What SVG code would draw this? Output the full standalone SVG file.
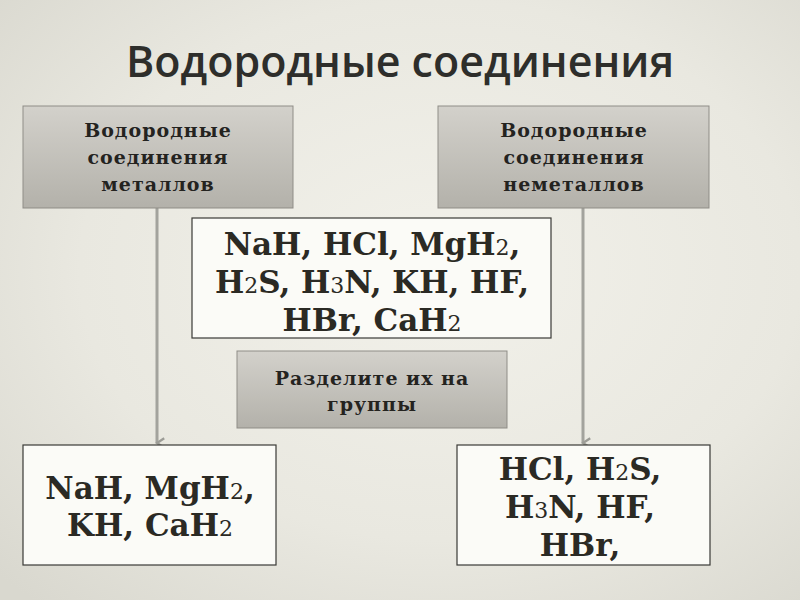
<svg xmlns="http://www.w3.org/2000/svg" width="800" height="600" viewBox="0 0 800 600">
<defs>
<radialGradient id="bg" cx="0.55" cy="0.45" r="0.75">
<stop offset="0" stop-color="#f2f1ea"/>
<stop offset="0.6" stop-color="#e9e8e0"/>
<stop offset="1" stop-color="#d9d8cf"/>
</radialGradient>
<linearGradient id="grey" x1="0" y1="0" x2="0" y2="1">
<stop offset="0" stop-color="#d3d1cb"/>
<stop offset="1" stop-color="#b3b1aa"/>
</linearGradient>
<marker id="arr" viewBox="0 0 10 10" refX="5" refY="8" markerWidth="4" markerHeight="4" orient="auto-start-reverse" markerUnits="strokeWidth">
<path d="M1,2 L5,8 L9,2" fill="none" stroke="#9c9c96" stroke-width="2"/>
</marker>
</defs>
<style>
.gbox{fill:url(#grey);stroke:#8f8d87;stroke-width:1}
.wbox{fill:#fbfbf7;stroke:#3a3a36;stroke-width:1.2}
.sm{font-family:"DejaVu Serif","Liberation Serif",serif;font-weight:bold;font-size:19px;fill:#24231f;text-anchor:middle;letter-spacing:1px}
.big{font-family:"DejaVu Serif","Liberation Serif",serif;font-weight:bold;font-size:31px;fill:#2b2a24;text-anchor:middle}
.sub{font-size:22px;font-weight:normal}
.title{font-family:"Open Sans","DejaVu Sans",sans-serif;font-weight:600;font-size:43px;fill:#2e2e2b;text-anchor:middle}
.conn{stroke:#a3a39d;stroke-width:3;fill:none}
</style>
<rect width="800" height="600" fill="url(#bg)"/>
<g id="title">
<text class="title" x="400" y="77">Водородные соединения</text>
</g>
<g id="connectors">
<line class="conn" x1="157" y1="208" x2="157" y2="443" marker-end="url(#arr)"/>
<line class="conn" x1="583" y1="208" x2="583" y2="443" marker-end="url(#arr)"/>
</g>
<g id="metals-head">
<rect class="gbox" x="23" y="106" width="270" height="102"/>
<text class="sm" x="158" y="137">Водородные</text>
<text class="sm" x="158" y="164">соединения</text>
<text class="sm" x="158" y="191">металлов</text>
</g>
<g id="nonmetals-head">
<rect class="gbox" x="438" y="106" width="271" height="102"/>
<text class="sm" x="574" y="137">Водородные</text>
<text class="sm" x="574" y="164">соединения</text>
<text class="sm" x="574" y="191">неметаллов</text>
</g>
<g id="all">
<rect class="wbox" x="192" y="218" width="359" height="120"/>
<text class="big" x="372" y="255">NaH, HCl, MgH<tspan class="sub">2</tspan>,</text>
<text class="big" x="372" y="293">H<tspan class="sub">2</tspan>S, H<tspan class="sub">3</tspan>N, KH, HF,</text>
<text class="big" x="372" y="331">HBr, CaH<tspan class="sub">2</tspan></text>
</g>
<g id="task">
<rect class="gbox" x="237" y="351" width="270" height="77"/>
<text class="sm" x="372" y="385">Разделите их на</text>
<text class="sm" x="372" y="411">группы</text>
</g>
<g id="metals">
<rect class="wbox" x="23" y="445" width="253" height="120"/>
<text class="big" x="150" y="499">NaH, MgH<tspan class="sub">2</tspan>,</text>
<text class="big" x="150" y="536">KH, CaH<tspan class="sub">2</tspan></text>
</g>
<g id="nonmetals">
<rect class="wbox" x="457" y="445" width="253" height="120"/>
<text class="big" x="580" y="480">HCl, H<tspan class="sub">2</tspan>S,</text>
<text class="big" x="580" y="518">H<tspan class="sub">3</tspan>N, HF,</text>
<text class="big" x="580" y="556">HBr,</text>
</g>
</svg>
